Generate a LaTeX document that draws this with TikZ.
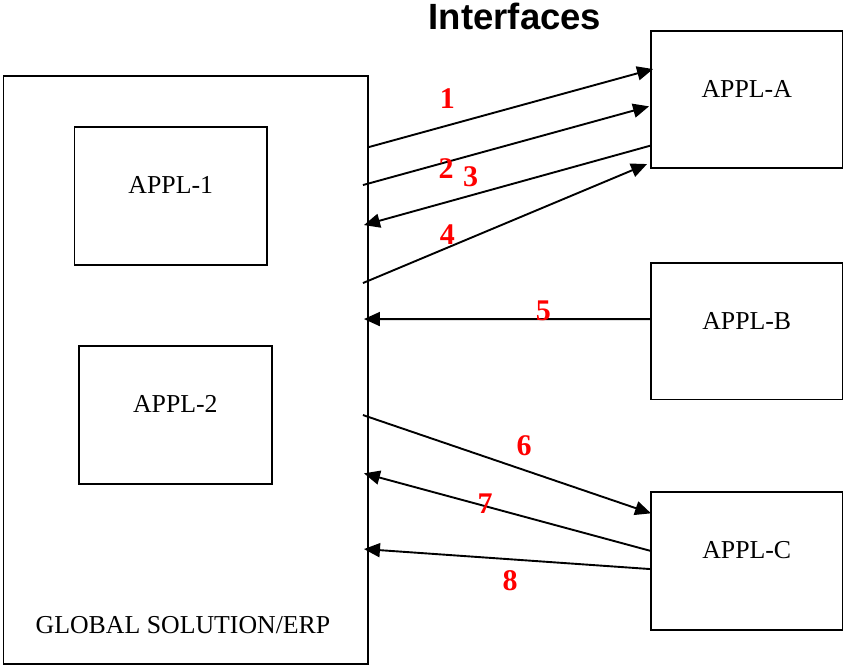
\documentclass[tikz,border=0pt]{standalone}
\usepackage{fontspec}
\setmainfont{Liberation Serif}
\newfontfamily\headfont{Liberation Sans}
\usetikzlibrary{arrows.meta,calc}

\begin{document}
\begin{tikzpicture}[x=1pt,y=-1pt,
  box/.style={draw=black, line width=1.9pt, rectangle, inner sep=0pt},
  boxtext/.style={anchor=base, font=\fontsize{25.8}{30}\selectfont, inner sep=0pt},
  num/.style={text=red, font=\fontsize{30}{34}\selectfont\bfseries, inner sep=0pt},
  flow/.style={line width=1.9pt, -{Triangle[length=16pt,width=14pt]}},
]
\useasboundingbox (0,0) rectangle (844,666);

% title
\node[anchor=base, inner sep=0pt, font=\headfont\fontsize{36.5}{40}\selectfont\bfseries] (title) at (515,30) {Interfaces};

% global solution with its inner applications
\node[box, minimum width=364.5pt, minimum height=588pt] (G) at (185.75,370) {};
\node[box, minimum width=192.5pt, minimum height=138pt] (P1) at (170.75,196) {};
\node[box, minimum width=192.7pt, minimum height=138pt] (P2) at (175.35,415) {};
\node[boxtext] (P1t) at ([yshift=-67pt]P1.north) {APPL-1};
\node[boxtext] (P2t) at ([yshift=-67.3pt]P2.north) {APPL-2};
\node[boxtext] (Gt) at (183,633.3) {GLOBAL SOLUTION/ERP};

% external applications
\node[box, minimum width=191.5pt, minimum height=136.7pt] (A) at (746.75,99.65) {};
\node[box, minimum width=191.5pt, minimum height=136.7pt] (B) at (746.75,331.1) {};
\node[box, minimum width=191.5pt, minimum height=137.7pt] (C) at (746.75,561.15) {};
\node[boxtext] (At) at ([yshift=-67.4pt]A.north) {APPL-A};
\node[boxtext] (Bt) at ([yshift=-67.4pt]B.north) {APPL-B};
\node[boxtext] (Ct) at ([yshift=-67.4pt]C.north) {APPL-C};

% interfaces
\draw[flow] ([yshift=-72pt]G.north east) -- ([xshift=3pt,yshift=-38.7pt]A.north west);
\draw[flow] ([xshift=-6pt,yshift=-110pt]G.north east) -- ([xshift=-1pt,yshift=-76pt]A.north west);
\draw[flow] ([yshift=-115.4pt]A.north west) -- ([xshift=-5pt,yshift=-150pt]G.north east);
\draw[flow] ([xshift=-6pt,yshift=-208pt]G.north east) -- ([xshift=-3pt,yshift=-133.7pt]A.north west);
\draw[flow] ([yshift=-57.3pt]B.north west) -- ([xshift=-5pt,yshift=-244pt]G.north east);
\draw[flow] ([xshift=-6pt,yshift=-340pt]G.north east) -- ([xshift=1pt,yshift=-22pt]C.north west);
\draw[flow] ([yshift=-59.4pt]C.north west) -- ([xshift=-5pt,yshift=-398.3pt]G.north east);
\draw[flow] ([yshift=-77.7pt]C.north west) -- ([xshift=-5pt,yshift=-474pt]G.north east);

% interface numbers
\node[num] (n1) at (447.3,99) {1};
\node[num] (n2) at (446,168.3) {2};
\node[num] (n3) at (470.7,176.7) {3};
\node[num] (n4) at (447.3,234.3) {4};
\node[num] (n5) at (543.3,311) {5};
\node[num] (n6) at (524,446) {6};
\node[num] (n7) at (485,503.3) {7};
\node[num] (n8) at (510,580.7) {8};
\end{tikzpicture}
\end{document}
